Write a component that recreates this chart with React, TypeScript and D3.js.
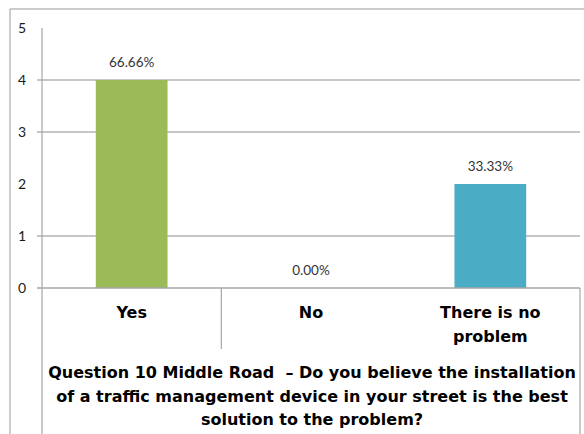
import * as d3 from "d3";

const categories = ["Yes", "No", "There is no problem"];
const categoryLines = [["Yes"], ["No"], ["There is no", "problem"]];
const counts = [4, 0, 2];
const percentLabels = ["66.66%", "0.00%", "33.33%"];
const barColors = ["#9BBB59", "#9BBB59", "#4BACC6"];
const yTicks = [0, 1, 2, 3, 4, 5];
const gridTicks = [1, 3, 4]; // the 2 and 5 gridlines are missing in the original
const titleLines = [
  "Question 10 Middle Road \u00a0\u2013 Do you believe the installation",
  "of a traffic management device in your street is the best",
  "solution to the problem?",
];

const W = 584;
const H = 434;
const plot = { left: 42, right: 580, top: 28, bottom: 288 };

export default function App() {
  const y = d3.scaleLinear().domain([0, 5]).range([plot.bottom, plot.top]);
  const x = d3
    .scaleBand<string>()
    .domain(categories)
    .range([plot.left, plot.right])
    .paddingInner(0.6)
    .paddingOuter(0.3);
  // slots without padding for the separators under the axis
  const slot = d3.scaleBand<string>().domain(categories).range([plot.left, plot.right]);

  const tickFont = "Lato, 'Open Sans', sans-serif";
  const boldFont = "'DejaVu Sans', Verdana, sans-serif";

  return (
    <svg
      width={W}
      height={H}
      style={{ position: "absolute", left: 0, top: 0, background: "#fff" }}
    >
      {/* outer frame */}
      <line x1={10} x2={W} y1={9} y2={9} stroke="#999" strokeWidth={1.2} />
      <line x1={10} x2={10} y1={9} y2={H} stroke="#aaa" strokeWidth={1.2} />

      {/* gridlines */}
      {gridTicks.map((t) => (
        <line
          key={t}
          x1={plot.left - 5}
          x2={plot.right}
          y1={y(t)}
          y2={y(t)}
          stroke="#b3b3b3"
          strokeWidth={1.3}
        />
      ))}

      {/* bars */}
      {categories.map((c, i) => (
        <rect
          key={c}
          x={x(c)}
          y={y(counts[i])}
          width={x.bandwidth()}
          height={y(0) - y(counts[i])}
          fill={barColors[i]}
        />
      ))}

      {/* axis at zero */}
      <line x1={plot.left - 5} x2={plot.right} y1={y(0)} y2={y(0)} stroke="#a6a6a6" strokeWidth={1.3} />
      {/* y axis */}
      <line x1={plot.left} x2={plot.left} y1={plot.top} y2={H} stroke="#a6a6a6" strokeWidth={1.2} />
      {/* separator below axis */}
      <line
        x1={slot(categories[1])}
        x2={slot(categories[1])}
        y1={y(0)}
        y2={349}
        stroke="#a6a6a6"
        strokeWidth={1.2}
      />
      {/* right edge of the table */}
      <line x1={plot.right} x2={plot.right} y1={y(0)} y2={H} stroke="#a6a6a6" strokeWidth={1.2} />

      {/* y tick labels */}
      {yTicks.map((t) => (
        <text
          key={t}
          x={26}
          y={y(t)}
          dy="0.36em"
          textAnchor="end"
          fontFamily={tickFont}
          fontSize={14}
          fill="#1a1a1a"
        >
          {t}
        </text>
      ))}

      {/* value labels */}
      {categories.map((c, i) => (
        <text
          key={c}
          x={x(c)! + x.bandwidth() / 2}
          y={y(counts[i]) - 13}
          textAnchor="middle"
          fontFamily={tickFont}
          fontSize={13.5}
          fill="#333"
        >
          {percentLabels[i]}
        </text>
      ))}

      {/* category labels */}
      {categories.map((c, i) => (
        <text
          key={c}
          textAnchor="middle"
          fontFamily={boldFont}
          fontWeight="bold"
          fontSize={16}
          fill="#000"
        >
          {categoryLines[i].map((line, j) => (
            <tspan key={j} x={x(c)! + x.bandwidth() / 2} y={318 + j * 24}>
              {line}
            </tspan>
          ))}
        </text>
      ))}

      {/* title below */}
      <text textAnchor="middle" fontFamily={boldFont} fontWeight="bold" fontSize={16} fill="#000">
        {titleLines.map((line, j) => (
          <tspan key={j} x={312} y={378 + j * 23.5}>
            {line}
          </tspan>
        ))}
      </text>
    </svg>
  );
}
